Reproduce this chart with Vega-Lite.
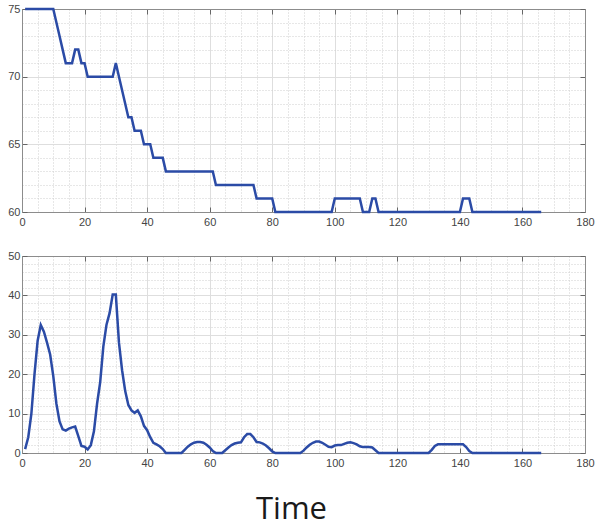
{
"$schema": "https://vega.github.io/schema/vega-lite/v6.json",
"padding": {"left": 7, "top": 3, "right": 5, "bottom": 30},
"background": "white",
"bounds": "flush",
"spacing": 44,
"config": {
  "view": {"stroke": null},
  "axis": {"labelFont": "Liberation Sans", "labelFontSize": 11, "labelColor": "#444444", "labelFlush": false, "labelOverlap": false, "domain": false, "domainColor": "#8c8c8c", "domainWidth": 1, "title": null, "tickColor": "#666666", "tickWidth": 1}
},
"datasets": {"d": [
{"t":1,"a":75,"b":1},{"t":2,"a":75,"b":4},{"t":3,"a":75,"b":10},{"t":4,"a":75,"b":20},{"t":5,"a":75,"b":28.5},
{"t":6,"a":75,"b":32.5},{"t":7,"a":75,"b":30.8},{"t":8,"a":75,"b":28},{"t":9,"a":75,"b":25},{"t":10,"a":75,"b":19.5},
{"t":11,"a":74,"b":12.5},{"t":12,"a":73,"b":8},{"t":13,"a":72,"b":6},{"t":14,"a":71,"b":5.7},{"t":15,"a":71,"b":6.2},
{"t":16,"a":71,"b":6.5},{"t":17,"a":72,"b":6.7},{"t":18,"a":72,"b":4.3},{"t":19,"a":71,"b":1.8},{"t":20,"a":71,"b":1.6},
{"t":21,"a":70,"b":0.9},{"t":22,"a":70,"b":2},{"t":23,"a":70,"b":5.5},{"t":24,"a":70,"b":12.5},{"t":25,"a":70,"b":18},
{"t":26,"a":70,"b":27},{"t":27,"a":70,"b":32.5},{"t":28,"a":70,"b":35.5},{"t":29,"a":70,"b":40.2},{"t":30,"a":71,"b":40.2},
{"t":31,"a":70,"b":28},{"t":32,"a":69,"b":21},{"t":33,"a":68,"b":15.7},{"t":34,"a":67,"b":12.2},{"t":35,"a":67,"b":10.8},
{"t":36,"a":66,"b":10.2},{"t":37,"a":66,"b":10.8},{"t":38,"a":66,"b":9.3},{"t":39,"a":65,"b":6.9},{"t":40,"a":65,"b":5.8},
{"t":41,"a":65,"b":4},{"t":42,"a":64,"b":2.6},{"t":43,"a":64,"b":2.2},{"t":44,"a":64,"b":1.7},{"t":45,"a":64,"b":1},
{"t":46,"a":63,"b":0},{"t":47,"a":63,"b":0},{"t":48,"a":63,"b":0},{"t":49,"a":63,"b":0},{"t":50,"a":63,"b":0},
{"t":51,"a":63,"b":0},{"t":52,"a":63,"b":0.8},{"t":53,"a":63,"b":1.6},{"t":54,"a":63,"b":2.2},{"t":55,"a":63,"b":2.6},
{"t":56,"a":63,"b":2.8},{"t":57,"a":63,"b":2.8},{"t":58,"a":63,"b":2.6},{"t":59,"a":63,"b":2.1},{"t":60,"a":63,"b":1.4},
{"t":61,"a":63,"b":0.5},{"t":62,"a":62,"b":0},{"t":63,"a":62,"b":0},{"t":64,"a":62,"b":0},{"t":65,"a":62,"b":0.7},
{"t":66,"a":62,"b":1.4},{"t":67,"a":62,"b":2},{"t":68,"a":62,"b":2.4},{"t":69,"a":62,"b":2.6},{"t":70,"a":62,"b":2.7},
{"t":71,"a":62,"b":4},{"t":72,"a":62,"b":4.8},{"t":73,"a":62,"b":4.8},{"t":74,"a":62,"b":4},{"t":75,"a":61,"b":2.8},
{"t":76,"a":61,"b":2.7},{"t":77,"a":61,"b":2.4},{"t":78,"a":61,"b":1.9},{"t":79,"a":61,"b":1.2},{"t":80,"a":61,"b":0.4},
{"t":81,"a":60,"b":0},{"t":82,"a":60,"b":0},{"t":83,"a":60,"b":0},{"t":84,"a":60,"b":0},{"t":85,"a":60,"b":0},
{"t":86,"a":60,"b":0},{"t":87,"a":60,"b":0},{"t":88,"a":60,"b":0},{"t":89,"a":60,"b":0},{"t":90,"a":60,"b":0.6},
{"t":91,"a":60,"b":1.4},{"t":92,"a":60,"b":2.1},{"t":93,"a":60,"b":2.6},{"t":94,"a":60,"b":2.9},{"t":95,"a":60,"b":2.9},
{"t":96,"a":60,"b":2.6},{"t":97,"a":60,"b":2.1},{"t":98,"a":60,"b":1.6},{"t":99,"a":60,"b":1.5},{"t":100,"a":61,"b":1.9},
{"t":101,"a":61,"b":2},{"t":102,"a":61,"b":2},{"t":103,"a":61,"b":2.3},{"t":104,"a":61,"b":2.6},{"t":105,"a":61,"b":2.7},
{"t":106,"a":61,"b":2.5},{"t":107,"a":61,"b":2.2},{"t":108,"a":61,"b":1.7},{"t":109,"a":60,"b":1.5},{"t":110,"a":60,"b":1.5},
{"t":111,"a":60,"b":1.5},{"t":112,"a":61,"b":1.4},{"t":113,"a":61,"b":0.7},{"t":114,"a":60,"b":0},{"t":115,"a":60,"b":0},
{"t":116,"a":60,"b":0},{"t":117,"a":60,"b":0},{"t":118,"a":60,"b":0},{"t":119,"a":60,"b":0},{"t":120,"a":60,"b":0},
{"t":121,"a":60,"b":0},{"t":122,"a":60,"b":0},{"t":123,"a":60,"b":0},{"t":124,"a":60,"b":0},{"t":125,"a":60,"b":0},
{"t":126,"a":60,"b":0},{"t":127,"a":60,"b":0},{"t":128,"a":60,"b":0},{"t":129,"a":60,"b":0},{"t":130,"a":60,"b":0},
{"t":131,"a":60,"b":0.8},{"t":132,"a":60,"b":1.8},{"t":133,"a":60,"b":2.2},{"t":134,"a":60,"b":2.2},{"t":135,"a":60,"b":2.2},
{"t":136,"a":60,"b":2.2},{"t":137,"a":60,"b":2.2},{"t":138,"a":60,"b":2.2},{"t":139,"a":60,"b":2.2},{"t":140,"a":60,"b":2.2},
{"t":141,"a":61,"b":2.2},{"t":142,"a":61,"b":1.5},{"t":143,"a":61,"b":0.5},{"t":144,"a":60,"b":0},{"t":145,"a":60,"b":0},
{"t":146,"a":60,"b":0},{"t":147,"a":60,"b":0},{"t":148,"a":60,"b":0},{"t":149,"a":60,"b":0},{"t":150,"a":60,"b":0},
{"t":151,"a":60,"b":0},{"t":152,"a":60,"b":0},{"t":153,"a":60,"b":0},{"t":154,"a":60,"b":0},{"t":155,"a":60,"b":0},
{"t":156,"a":60,"b":0},{"t":157,"a":60,"b":0},{"t":158,"a":60,"b":0},{"t":159,"a":60,"b":0},{"t":160,"a":60,"b":0},
{"t":161,"a":60,"b":0},{"t":162,"a":60,"b":0},{"t":163,"a":60,"b":0},{"t":164,"a":60,"b":0},{"t":165,"a":60,"b":0},
{"t":166,"a":60,"b":0}
]},
"vconcat": [
{
  "width": 563, "height": 203,
  "data": {"name": "d"},
  "resolve": {"axis": {"x": "independent", "y": "independent"}},
  "layer": [
    {"mark": {"type": "line", "strokeOpacity": 0},
     "encoding": {
       "x": {"field": "t", "type": "quantitative", "scale": {"domain": [0, 180], "nice": false, "zero": false},
             "axis": {"orient": "bottom", "values": [0,5,10,15,20,25,30,35,40,45,50,55,60,65,70,75,80,85,90,95,100,105,110,115,120,125,130,135,140,145,150,155,160,165,170,175,180], "grid": true, "gridColor": "#cfcfcf", "gridDash": [1, 2], "ticks": false, "labels": false}},
       "y": {"field": "a", "type": "quantitative", "scale": {"domain": [60, 75], "nice": false, "zero": false},
             "axis": {"orient": "left", "values": [60,61,62,63,64,65,66,67,68,69,70,71,72,73,74,75], "grid": true, "gridColor": "#cfcfcf", "gridDash": [1, 2], "ticks": false, "labels": false}}
     }},
    {"mark": {"type": "line", "strokeOpacity": 0},
     "encoding": {
       "x": {"field": "t", "type": "quantitative", "axis": {"orient": "top", "values": [0,20,40,60,80,100,120,140,160,180], "grid": false, "domain": true, "ticks": true, "tickSize": -5, "labels": false}},
       "y": {"field": "a", "type": "quantitative", "axis": {"orient": "right", "values": [60,65,70,75], "grid": false, "domain": true, "ticks": true, "tickSize": -5, "labels": false}}
     }},
    {"mark": {"type": "line", "color": "#2b4ba6", "strokeWidth": 2.5},
     "encoding": {
       "x": {"field": "t", "type": "quantitative", "axis": {"orient": "bottom", "values": [0,20,40,60,80,100,120,140,160,180], "grid": true, "gridColor": "#dedede", "domain": true, "ticks": true, "tickSize": -5, "labelPadding": 9}},
       "y": {"field": "a", "type": "quantitative", "axis": {"orient": "left", "values": [60,65,70,75], "grid": true, "gridColor": "#dedede", "domain": true, "ticks": true, "tickSize": -5, "labelPadding": 7}}
     }}
  ]
},
{
  "width": 563, "height": 197,
  "data": {"name": "d"},
  "resolve": {"axis": {"x": "independent", "y": "independent"}},
  "layer": [
    {"mark": {"type": "line", "strokeOpacity": 0},
     "encoding": {
       "x": {"field": "t", "type": "quantitative", "scale": {"domain": [0, 180], "nice": false, "zero": false},
             "axis": {"orient": "bottom", "values": [0,5,10,15,20,25,30,35,40,45,50,55,60,65,70,75,80,85,90,95,100,105,110,115,120,125,130,135,140,145,150,155,160,165,170,175,180], "grid": true, "gridColor": "#cfcfcf", "gridDash": [1, 2], "ticks": false, "labels": false}},
       "y": {"field": "b", "type": "quantitative", "scale": {"domain": [0, 50], "nice": false},
             "axis": {"orient": "left", "values": [0,2,4,6,8,10,12,14,16,18,20,22,24,26,28,30,32,34,36,38,40,42,44,46,48,50], "grid": true, "gridColor": "#cfcfcf", "gridDash": [1, 2], "ticks": false, "labels": false}}
     }},
    {"mark": {"type": "line", "strokeOpacity": 0},
     "encoding": {
       "x": {"field": "t", "type": "quantitative", "axis": {"orient": "top", "values": [0,20,40,60,80,100,120,140,160,180], "grid": false, "domain": true, "ticks": true, "tickSize": -5, "labels": false}},
       "y": {"field": "b", "type": "quantitative", "axis": {"orient": "right", "values": [0,10,20,30,40,50], "grid": false, "domain": true, "ticks": true, "tickSize": -5, "labels": false}}
     }},
    {"mark": {"type": "line", "color": "#2b4ba6", "strokeWidth": 2.5},
     "encoding": {
       "x": {"field": "t", "type": "quantitative", "axis": {"orient": "bottom", "values": [0,20,40,60,80,100,120,140,160,180], "grid": true, "gridColor": "#dedede", "domain": true, "ticks": true, "tickSize": -5, "labelPadding": 9,
             "title": "Time", "titleFont": "Open Sans", "titleFontSize": 31, "titleFontWeight": "normal", "titleColor": "#1a1a1a", "titleX": 269, "titleY": 65, "titleBaseline": "alphabetic", "titleAlign": "center"}},
       "y": {"field": "b", "type": "quantitative", "axis": {"orient": "left", "values": [0,10,20,30,40,50], "grid": true, "gridColor": "#dedede", "domain": true, "ticks": true, "tickSize": -5, "labelPadding": 7}}
     }}
  ]
}
]
}
